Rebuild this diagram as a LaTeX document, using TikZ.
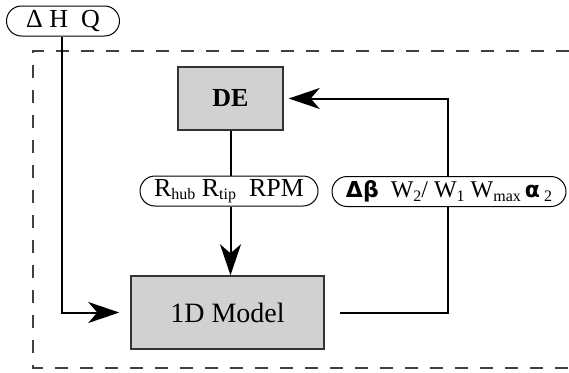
\documentclass[tikz,border=0pt]{standalone}
\usepackage{fontspec}
\setmainfont{Liberation Serif}
\newfontfamily\symfont{DejaVu Sans}
\usetikzlibrary{arrows.meta}
\newcommand\lowsub[1]{\raisebox{-3.5pt}{\fontsize{16}{16}\selectfont #1}}
\begin{document}
\begin{tikzpicture}[x=1pt,y=-1pt,
  pill/.style={draw, line width=1pt, rounded corners=15pt, minimum height=30pt, inner sep=0pt, font=\fontsize{26}{26}\selectfont},
  blockbox/.style={draw=black!80, line width=1.5pt, fill=black!18, inner sep=0pt},
  link/.style={line width=2pt},
  tip/.style={-{Stealth[length=31pt,width=21pt,inset=9pt]}},
  frame/.style={dash pattern=on 13pt off 12pt, line width=1.8pt, draw=black!75}]
\useasboundingbox (0,0) rectangle (569,372);
\draw[frame] (569,51) -- (33,51) -- (33,368) -- (569,368);
\node[pill, minimum width=113pt] (in) at (63,21) {Δ H\ \ Q};
\node[blockbox, minimum width=105pt, minimum height=63pt, font=\fontsize{26}{26}\selectfont\bfseries] (de) at (230.5,98.5) {DE};
\node[blockbox, minimum width=193pt, minimum height=73pt, font=\fontsize{28}{28}\selectfont] (model) at (227.5,312.5) {1D Model};
\node[pill, minimum width=178pt] (geo) at (229,191) {R\lowsub{hub}\ R\lowsub{tip}\ \ RPM};
\node[pill, minimum width=234pt, font=\fontsize{24}{24}\selectfont] (perf) at (449,191.5) {{\symfont\bfseries\fontsize{22}{22}\selectfont Δβ}\ \ W\lowsub{2}/ W\lowsub{1}\ W\lowsub{max}\,{\symfont\bfseries\fontsize{22}{22}\selectfont α}\,\lowsub{2}};
\coordinate (fb) at (448,313);
\draw[link,tip] (in.south -| 62,0) |- ([xshift=-11pt]model.west);
\draw[link] (de.south) -- (de.south |- geo.north);
\draw[link,tip] (de.south |- geo.south) -- (de.south |- model.north);
\draw[link] ([xshift=15pt]model.east) -- (fb |- model.east) -- (fb |- perf.south);
\draw[link,tip] (fb |- perf.north) -- (fb |- de.east) -- ([xshift=5pt]de.east);
\end{tikzpicture}
\end{document}
